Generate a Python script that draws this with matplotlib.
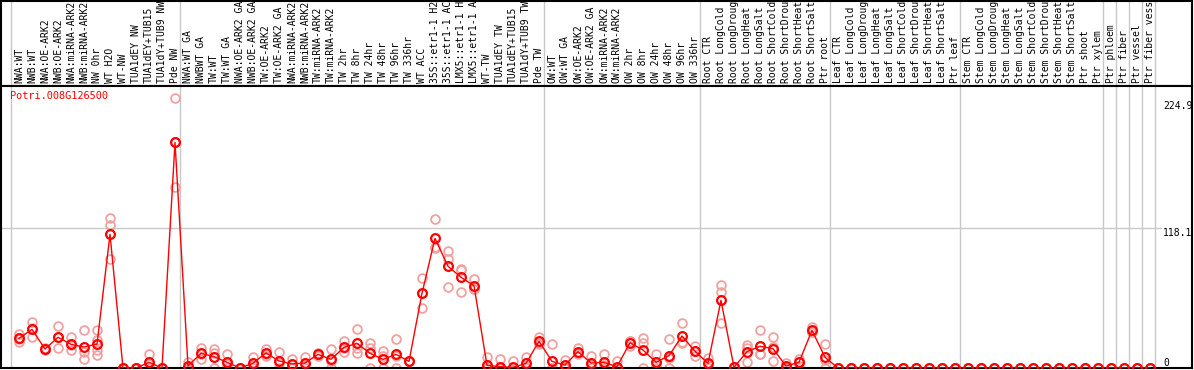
import matplotlib.pyplot as plt
import matplotlib.transforms as mtransforms

# ==========================================
# DATA
# ==========================================

gene = "Potri.008G126500"

# sample names as shown (the header keeps 14 characters)
samples = [
    "NWA:WT", "NWB:WT", "NWA:OE-ARK2", "NWB:OE-ARK2", "NWA:miRNA-ARK2",
    "NWB:miRNA-ARK2", "NW 0hr", "WT H2O", "WT-NW", "TUA1dEY NW",
    "TUA1dEY+TUB15", "TUA1dY+TUB9 NW", "Pde NW",
    "NWA:WT GA", "NWBWT GA", "TW:WT", "TW:WT GA", "NWA:OE-ARK2 GA",
    "NWB:OE-ARK2 GA", "TW:OE-ARK2", "TW:OE-ARK2 GA", "NWA:miRNA-ARK2",
    "NWB:miRNA-ARK2", "TW:miRNA-ARK2", "TW:miRNA-ARK2", "TW 2hr", "TW 8hr",
    "TW 24hr", "TW 48hr", "TW 96hr", "TW 336hr", "WT ACC",
    "35S::etr1-1 H2", "35S::etr1-1 AC", "LMX5::etr1-1 H",
    "LMX5::etr1-1 A", "WT-TW", "TUA1dEY TW", "TUA1dEY+TUB15",
    "TUA1dY+TUB9 TW", "Pde TW",
    "OW:WT", "OW:WT GA", "OW:OE-ARK2", "OW:OE-ARK2 GA", "OW:miRNA-ARK2",
    "OW:miRNA-ARK2", "OW 2hr", "OW 8hr", "OW 24hr", "OW 48hr", "OW 96hr",
    "OW 336hr",
    "Root CTR", "Root LongCold", "Root LongDroug", "Root LongHeat",
    "Root LongSalt", "Root ShortCold", "Root ShortDrou", "Root ShortHeat",
    "Root ShortSalt", "Ptr root",
    "Leaf CTR", "Leaf LongCold", "Leaf LongDroug", "Leaf LongHeat",
    "Leaf LongSalt", "Leaf ShortCold", "Leaf ShortDrou", "Leaf ShortHeat",
    "Leaf ShortSalt", "Ptr leaf",
    "Stem CTR", "Stem LongCold", "Stem LongDroug", "Stem LongHeat",
    "Stem LongSalt", "Stem ShortCold", "Stem ShortDrou", "Stem ShortHeat",
    "Stem ShortSalt", "Ptr shoot",
    "Ptr xylem", "Ptr phloem", "Ptr fiber", "Ptr vessel", "Ptr fiber vess",
]

means = [
    25.0, 32.6, 16.0, 25.9, 20.0, 17.7, 20.2, 112.8, 0, 0, 4.8, 0, 190.4,
    1.7, 12.4, 9.6, 4.8, 0, 4.0, 12.7, 5.9, 3.4, 4.2, 11.5, 7.3, 17.4, 20.8,
    12.4, 7.3, 11.5, 5.6, 63.0, 109.4, 85.8, 76.5, 69.4, 2.2, 1.1, 0.5, 3.9,
    22.5, 5.6, 2.5, 13.8, 4.2, 4.8, 1.1, 21.3, 15.2, 4.8, 10.4, 27.0, 14.1,
    3.9, 57.1, 0.5, 13.8, 18.3, 16.3, 1.7, 4.8, 31.8, 9.0,
    0, 0, 0, 0, 0, 0, 0, 0, 0, 0,
    0, 0, 0, 0, 0, 0, 0, 0, 0, 0,
    0, 0, 0, 0, 0,
]

replicates = [
    [28.4, 22.2, 24.5], [38.5, 25.9, 33.4], [16.0, 16.5, 15.5],
    [35.2, 16.6, 25.9], [26.2, 14.9, 19.0], [32.1, 13.8, 7.9],
    [31.8, 23.6, 15.2, 11.0], [126.3, 120.4, 91.7], [0, 0, 0], [0, 0, 0],
    [11.5, 0, 3.0], [0, 0, 0], [227.5, 153.0, 190.4],
    [5.3, 0, 0], [17.2, 7.9, 12.1], [15.8, 0, 13.0], [11.5, 0, 3.0],
    [0, 0, 0], [9.6, 0, 2.4], [15.8, 12.0, 10.3], [13.4, 0, 4.3],
    [7.9, 0, 2.3], [9.6, 0, 3.0], [13.0, 10.0, 11.5], [15.7, 0, 6.2],
    [22.5, 13.2, 16.5], [32.9, 12.7, 16.8], [20.8, 16.9, 0],
    [14.3, 10.1, 0], [24.5, 0, 10.0], [5.6, 5.6, 5.6], [75.7, 50.4, 63.0],
    [125.4, 101.0, 101.8], [98.4, 91.7, 68.6], [83.2, 63.8, 82.5],
    [75.1, 66.6, 66.5], [9.0, 0, 0], [7.3, 0, 0], [5.6, 0, 0],
    [9.6, 2.0, 0], [26.4, 20.0, 21.1],
    [20.2, 0, 0], [6.7, 0, 0.8], [16.6, 13.0, 11.8], [10.1, 0, 2.5],
    [11.8, 0, 2.6], [5.6, 0, 0], [18.3, 23.0, 22.6], [25.0, 21.4, 0],
    [11.5, 0, 2.9], [24.2, 8.7, 0], [38.0, 20.8, 22.2], [18.3, 9.8, 14.2],
    [8.4, 0, 3.3], [70.0, 64.4, 37.7], [0.5, 0.5, 0.5], [19.2, 5.0, 17.2],
    [31.8, 11.5, 11.6], [25.9, 5.6, 17.4], [4.2, 0, 0.9], [7.3, 2.0, 5.1],
    [34.9, 30.0, 30.5], [20.0, 0, 7.0],
] + [[0, 0, 0]] * 25

# group boundaries (between sample indices)
group_edges = [-0.5, 12.5, 40.5, 52.5, 62.5, 72.5, 83.5, 84.5, 85.5, 86.5, 87.5]

y_ticks = [0, 118.1, 224.9]
y_tick_labels = ["0", "118.1", "224.9"]

# ==========================================
# LAYOUT (pixel based)
# ==========================================

W, H = 1194, 370
FONT = "DejaVu Sans Mono"
GRID = "#c8c8c8"

fig = plt.figure(figsize=(W / 100, H / 100), dpi=100)


def px_axes(x0, y0, x1, y1):
    return fig.add_axes([x0 / W, 1 - y1 / H, (x1 - x0) / W, (y1 - y0) / H])


x = list(range(len(samples)))
# x pixel = 19 + 13 * i
xlim = ((1 - 19) / 13, (1192 - 19) / 13)

ax_head = px_axes(1, 1, 1192, 86)
ax = px_axes(1, 86, 1192, 368)

# ==========================================
# HEADER (rotated sample names)
# ==========================================

ax_head.set_xlim(*xlim)
ax_head.set_ylim(0, 1)
ax_head.set_xticks([])
ax_head.set_yticks([])
for s in ax_head.spines.values():
    s.set_linewidth(1.5)

for e in group_edges:
    ax_head.axvline(e - 0.12, color=GRID, lw=1, zorder=0)

for i, name in enumerate(samples):
    ax_head.text(
        i, 0.03, name,
        rotation=90, ha="center", va="bottom",
        fontsize=7.0, family=FONT, clip_on=True
    )

# ==========================================
# PLOT
# ==========================================

ax.set_xlim(*xlim)
ax.set_ylim(0, (368 - 86) / 1.1854)
ax.set_xticks([])
ax.set_yticks([])
for s in ax.spines.values():
    s.set_linewidth(1.5)

for e in group_edges:
    ax.axvline(e - 0.12, color=GRID, lw=1, zorder=0)
ax.axhline(118.1, xmin=0, xmax=(1161 - 1) / 1191, color=GRID, lw=1, zorder=0)

# replicates
for i, reps in enumerate(replicates):
    ax.plot(
        [i] * len(reps), reps, "o",
        ms=6.3, mfc="none", mec="#f2a0a0", mew=1.3, zorder=2
    )

# means
ax.plot(x, means, "-", color="red", lw=1, zorder=3)
ax.plot(x, means, "o", ms=6.3, mfc="none", mec="red", mew=1.6, zorder=4)

# right tick labels
trans = mtransforms.blended_transform_factory(ax.transAxes, ax.transData)
for v, lab in zip(y_ticks, y_tick_labels):
    ax.text(
        (1163 - 1) / 1191, v, lab,
        transform=trans, ha="left",
        va="bottom" if v == 0 else "top",
        fontsize=7.0, family=FONT
    )

fig.text(10 / W, 1 - 91 / H, gene, color="red", fontsize=7.4,
         family=FONT, ha="left", va="top")

fig.savefig("out.png", dpi=100)
